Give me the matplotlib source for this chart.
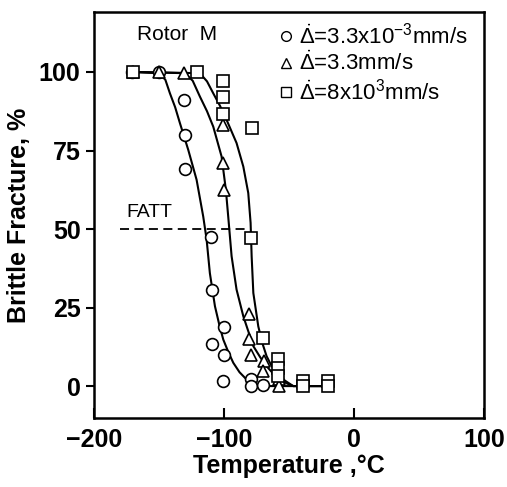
import matplotlib
matplotlib.use("Agg")
import matplotlib.pyplot as plt

plt.rcParams['font.family'] = ['Liberation Sans', 'DejaVu Sans']
plt.rcParams['mathtext.fontset'] = 'custom'
plt.rcParams['mathtext.rm'] = 'Liberation Sans'
plt.rcParams['mathtext.it'] = 'Liberation Sans'

# measured points
circ_x = [-171, -150, -131, -130, -130, -110, -109.5, -100, -109, -100, -100.5, -79, -79, -70]
circ_y = [100, 100, 91, 80, 69, 47.5, 30.5, 19, 13.5, 10, 1.7, 2.2, 0, 0.6]

tri_x = [-170, -150, -131, -100.5, -100.5, -100, -80.5, -81, -79.5, -69, -70, -58, -58, -39]
tri_y = [100, 100, 99.6, 83, 71, 62.5, 23, 15, 10, 8, 5, 2.2, 0, 1]

sq_x = [-170, -121, -100.5, -100.5, -100.5, -78.7, -79.5, -70, -58.7, -58.7, -58.7, -39, -39, -20, -20]
sq_y = [100, 100, 97, 92, 86.5, 82.3, 47.2, 15.4, 8.6, 6, 3.3, 1.7, 0, 1.7, 0]

# fitted curves
c1_x = [-171, -150, -145, -141.5, -137.5, -133.8, -127.4, -121, -115.9, -113.3, -110.8,
        -106.9, -103.5, -100.5, -96.5, -92.8, -88, -82.6, -77, -72.3, -20]
c1_y = [100, 99.6, 97.5, 93.2, 88.8, 83.7, 75.2, 65.7, 54, 46.7, 36,
        25.5, 19.5, 14.9, 10.8, 7.5, 4.5, 2.2, 0.8, 0.1, 0.1]

c2_x = [-171, -130, -124, -118.5, -113, -108.2, -101.8, -98.5, -96.7, -94.1, -90.3,
        -85.1, -81, -77.4, -72, -67.2, -62, -56.9, -52, -46.7, -20]
c2_y = [100, 99.6, 97.2, 92.2, 87.5, 82.6, 73.1, 62.5, 54, 41.4, 30.8,
        22.3, 17.2, 12.8, 9.2, 6.4, 4, 2.2, 1, 0.1, 0.1]

c3_x = [-171, -118.5, -113, -108.2, -103, -98, -90.3, -85.1, -81.3, -79.5, -78.7,
        -77.4, -73.6, -70.5, -67.2, -63.5, -59.5, -53, -46.7, -20]
c3_y = [100, 99.6, 97, 93.2, 89.2, 84.8, 77.4, 69.9, 61.5, 52, 41.4,
        29.7, 19.1, 13.8, 9.6, 6.6, 4.3, 1.8, 0.1, 0.1]

fatt_x = [-180, -82.5]
fatt_y = [50, 50]

xticks = [-200, -100, 0, 100]
yticks = [0, 25, 50, 75, 100]

labels = [r'$\dot{\Delta}$=3.3x10$^{-3}$mm/s',
          r'$\dot{\Delta}$=3.3mm/s',
          r'$\dot{\Delta}$=8x10$^{3}$mm/s']

fig = plt.figure(figsize=(5.07, 4.87), dpi=100)
ax = fig.add_axes([0.185, 0.142, 0.77, 0.833])

for cx, cy in [(c1_x, c1_y), (c2_x, c2_y), (c3_x, c3_y)]:
    ax.plot(cx, cy, color='black', lw=1.5)
ax.plot(fatt_x, fatt_y, color='black', lw=1.3, ls=(0, (5, 3)))
ax.text(-175, 52.5, 'FATT', fontsize=14, va='bottom', ha='left')

mk = dict(ls='none', mfc='white', mec='black', mew=1.2, ms=8.5)
ax.plot(circ_x, circ_y, marker='o', **mk)
ax.plot(tri_x, tri_y, marker='^', **mk)
ax.plot(sq_x, sq_y, marker='s', **mk)

# legend
leg_y = [111.5, 102.7, 93.5]
for m, ly, lab in zip(['o', '^', 's'], leg_y, labels):
    ax.plot([-52], [ly], marker=m, ls='none', mfc='white', mec='black', mew=1.0, ms=7)
    ax.text(-42, ly, lab, fontsize=16, va='center', ha='left')
ax.text(-167, 112, 'Rotor  M', fontsize=15, va='center', ha='left')

ax.set_xlim(-200, 100)
ax.set_ylim(-10, 119)
ax.set_xticks(xticks)
ax.set_yticks(yticks)
ax.tick_params(axis='x', direction='in', length=7, width=1.5, labelsize=18, pad=7)
ax.tick_params(axis='y', direction='out', length=6, width=1.5, labelsize=18)
for lab in ax.get_xticklabels() + ax.get_yticklabels():
    lab.set_fontweight('bold')
for s in ax.spines.values():
    s.set_linewidth(1.8)

ax.set_xlabel('Temperature ,°C', fontsize=18, fontweight='bold', labelpad=2)
ax.set_ylabel('Brittle Fracture, %', fontsize=18, fontweight='bold', labelpad=6)

fig.savefig('out.png', dpi=100)
